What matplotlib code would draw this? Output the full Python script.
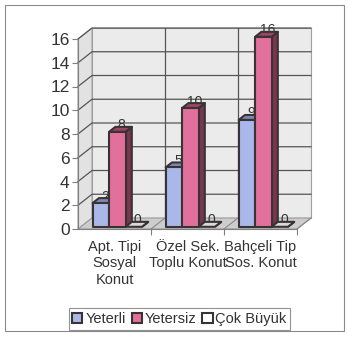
import matplotlib
matplotlib.use("Agg")
import matplotlib.pyplot as plt
from matplotlib.patches import Polygon, Rectangle, Patch
from matplotlib.lines import Line2D

plt.rcParams['font.family'] = ['Liberation Sans', 'DejaVu Sans']

# Data
categories = ["Apt. Tipi\nSosyal\nKonut", "Özel Sek.\nToplu Konut", "Bahçeli Tip\nSos. Konut"]
series_names = ["Yeterli", "Yetersiz", "Çok Büyük"]
yeterli = [2, 5, 9]
yetersiz = [8, 10, 16]
cok_buyuk = [0, 0, 0]
series_values = [yeterli, yetersiz, cok_buyuk]
y_ticks = [0, 2, 4, 6, 8, 10, 12, 14, 16]

# Face colours per series: front, top, side
front_cols = ["#a9b8e8", "#e2709c", "#ffffff"]
top_cols = ["#7a88b8", "#9c4566", "#d9d9d9"]
side_cols = ["#6a76a0", "#7a3550", "#bdbdbd"]
edge_col = "#3a3333"

W, H = 353, 341
fig = plt.figure(figsize=(W / 100, H / 100), dpi=100)
fig.patch.set_facecolor("white")

# axes box in pixels
ax_l, ax_r, ax_t, ax_b = 78, 297, 39, 229
ax = fig.add_axes([ax_l / W, 1 - ax_b / H, (ax_r - ax_l) / W, (ax_b - ax_t) / H])
ax.set_xlim(0, len(categories))
ax.set_ylim(0, 16)
ax.patch.set_alpha(0)

# pixel -> data unit conversion for the depth effect
px_x = len(categories) / (ax_r - ax_l)
px_y = 16 / (ax_b - ax_t)
DX, DY = 14, 11  # wall depth in pixels


def P(x, y, d):
    return (x + d * DX * px_x, y + d * DY * px_y)


n = len(categories)
ymax = 16

# walls
back = Polygon([P(0, 0, 1), P(n, 0, 1), P(n, ymax, 1), P(0, ymax, 1)],
               closed=True, fc="#ebebeb", ec="#a0a0a0", lw=0.8, zorder=0.5, clip_on=False)
side = Polygon([P(0, 0, 0), P(0, 0, 1), P(0, ymax, 1), P(0, ymax, 0)],
               closed=True, fc="#e2e2e2", ec="#a0a0a0", lw=0.8, zorder=0.5, clip_on=False)
floor = Polygon([P(0, 0, 0), P(n, 0, 0), P(n, 0, 1), P(0, 0, 1)],
                closed=True, fc="#cdcdcd", ec="#9a9a9a", lw=0.8, zorder=0.6, clip_on=False)
for p in (back, side, floor):
    ax.add_patch(p)

grid_kw = dict(color="#555555", lw=0.9, zorder=1, clip_on=False)
for yv in y_ticks[1:]:
    a, b = P(0, yv, 0), P(0, yv, 1)
    c = P(n, yv, 1)
    ax.add_line(Line2D([a[0], b[0], c[0]], [a[1], b[1], c[1]], **grid_kw))
for xv in range(1, n):
    a, b = P(xv, 0, 1), P(xv, ymax, 1)
    ax.add_line(Line2D([a[0], b[0]], [a[1], b[1]], **grid_kw))
for xv in range(1, n + 1):
    a, b = P(xv, 0, 0), P(xv, 0, 1)
    ax.add_line(Line2D([a[0], b[0]], [a[1], b[1]], color="#8a8a8a", lw=0.8, zorder=1, clip_on=False))

# bars
bw = 0.225
d0, d1 = 0.2, 0.65
for j in range(n):
    for i, vals in enumerate(series_values):
        v = vals[j]
        x0 = j + 0.5 + (i - 1) * bw - bw / 2
        x1 = x0 + bw
        z = 3 + j + i * 0.1
        kw = dict(closed=True, ec=edge_col, lw=1.5, clip_on=False, joinstyle="round")
        ax.add_patch(Polygon([P(x1, 0, d0), P(x1, 0, d1), P(x1, v, d1), P(x1, v, d0)],
                             fc=side_cols[i], zorder=z, **kw))
        ax.add_patch(Polygon([P(x0, v, d0), P(x1, v, d0), P(x1, v, d1), P(x0, v, d1)],
                             fc=top_cols[i], zorder=z + 0.01, **kw))
        if v > 0:
            ax.add_patch(Polygon([P(x0, 0, d0), P(x1, 0, d0), P(x1, v, d0), P(x0, v, d0)],
                                 fc=front_cols[i], zorder=z + 0.02, **kw))
        # value label sits just behind the bar top
        ax.annotate(str(v), xy=P((x0 + x1) / 2, v, (d0 + d1) / 2), xytext=(1, 4),
                    textcoords="offset pixels", ha="center", va="center",
                    fontsize=10, color="#333333", zorder=2 + j, annotation_clip=False)

# axes styling
for s in ("top", "right"):
    ax.spines[s].set_visible(False)
ax.spines["left"].set_color("#808080")
ax.spines["bottom"].set_color("#808080")
ax.spines["left"].set_zorder(2)
ax.spines["bottom"].set_zorder(2)
ax.set_yticks(y_ticks)
ax.set_yticklabels([str(t) for t in y_ticks])
ax.tick_params(axis="y", length=4, width=0.8, color="#808080", labelsize=12.5,
               labelcolor="#333333", pad=2)
ax.set_xticks(range(1, n + 1))
ax.set_xticklabels([""] * n)
ax.tick_params(axis="x", which="major", length=4, width=0.8, color="#808080")
ax.set_xticks([k + 0.5 for k in range(n)], minor=True)
ax.set_xticklabels(categories, minor=True, fontsize=10.5, color="#333333", linespacing=1.2)
ax.tick_params(axis="x", which="minor", length=0, pad=8)

# legend
handles = [Patch(fc=front_cols[i], ec=edge_col, lw=1.5, label=series_names[i]) for i in range(3)]
leg = fig.legend(handles=handles, loc="center", bbox_to_anchor=(179.5 / W, 1 - 319 / H),
                 ncol=3, fontsize=10.5, frameon=True, fancybox=False, edgecolor="#777777",
                 handlelength=0.7, handleheight=0.7, handletextpad=0.2,
                 columnspacing=0.4, borderpad=0.25, borderaxespad=0)
leg.get_frame().set_linewidth(0.8)
for t in leg.get_texts():
    t.set_color("#333333")

# outer chart frame
fig.add_artist(Rectangle((5 / W, 1 - 331 / H), (344 - 5) / W, (331 - 5) / H,
                         transform=fig.transFigure, fill=False, ec="#8a8a8a", lw=0.8))

fig.savefig("out.png", dpi=100, facecolor="white")
